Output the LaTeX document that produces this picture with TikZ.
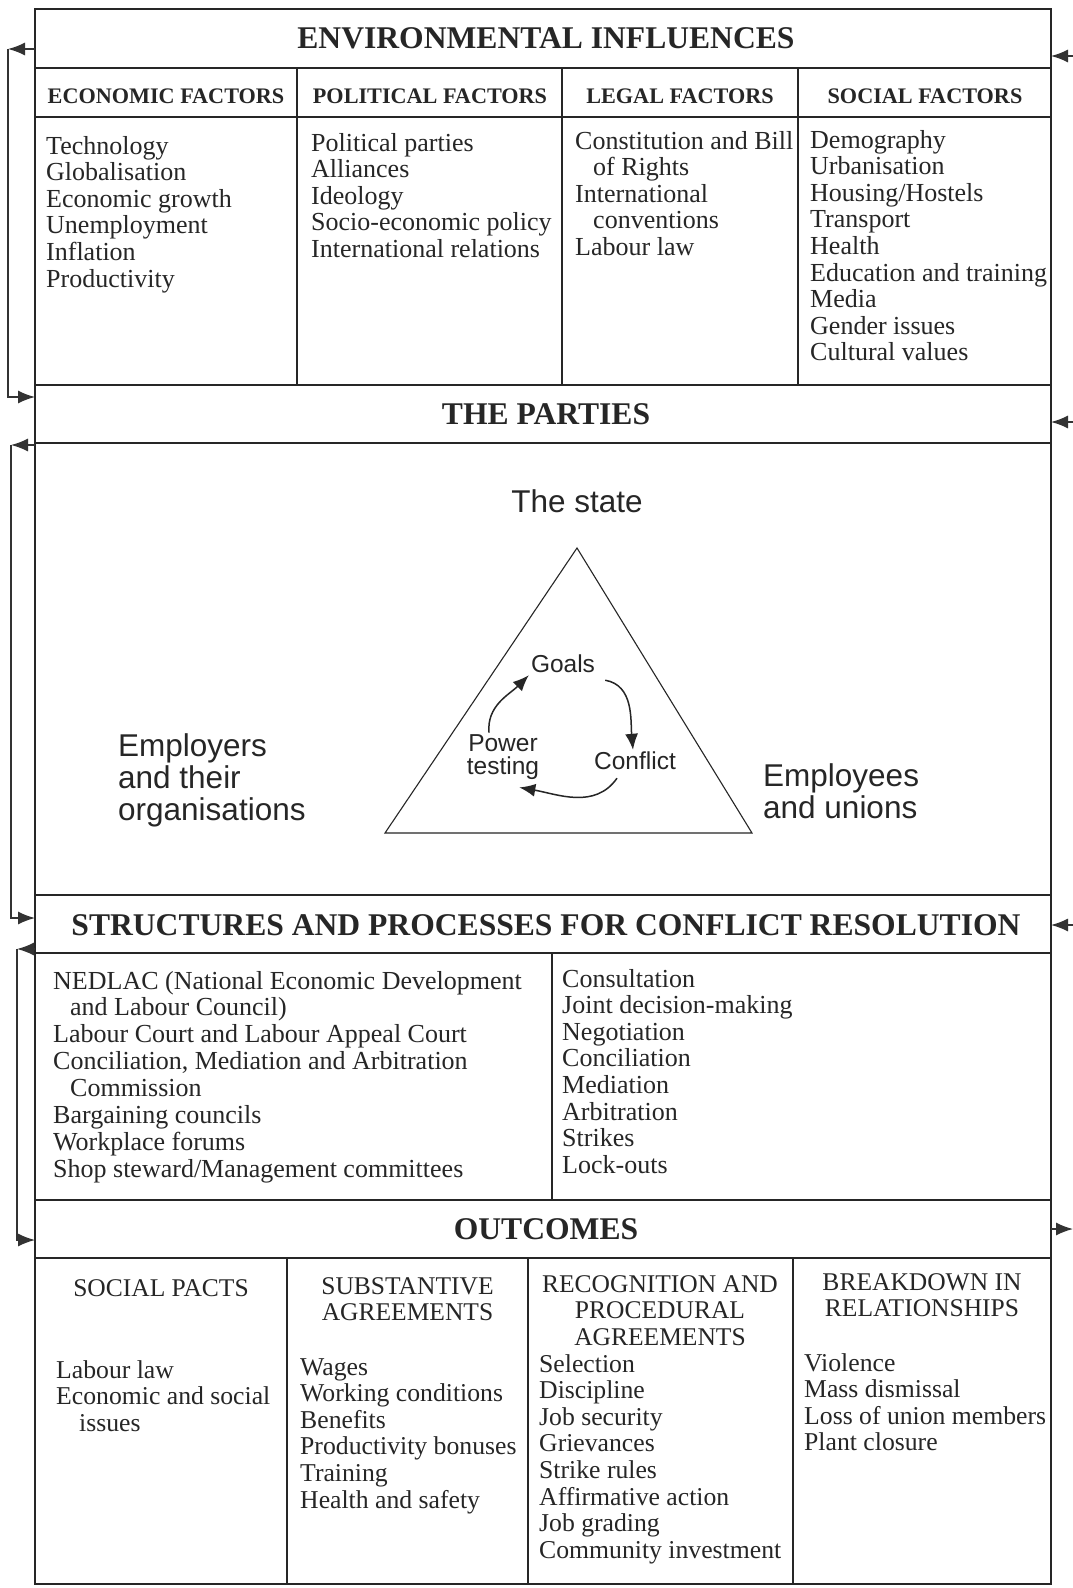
\documentclass[tikz,border=0pt]{standalone}
\usepackage{fontspec}
\setmainfont{Liberation Serif}
\setsansfont{Liberation Sans}
\usetikzlibrary{arrows.meta,positioning}

\begin{document}
\begin{tikzpicture}[x=1pt,y=1pt,
  rule/.style={draw=black!85, line width=1.4pt},
  link/.style={draw=black!80, line width=1.4pt},
  tip/.style={-{Latex[length=17pt,width=13pt]}},
  title/.style={font=\fontsize{31.6}{34}\selectfont\bfseries, text=black!85, anchor=base, inner sep=0pt},
  fhead/.style={font=\fontsize{22.2}{24}\selectfont\bfseries, text=black!85, anchor=base, inner sep=0pt},
  ohead/.style={font=\fontsize{25.5}{27}\selectfont, text=black!85, anchor=base, inner sep=0pt},
  item/.style={font=\fontsize{26}{27}\selectfont, text=black!85, anchor=base west, inner sep=0pt},
  oitem/.style={item, font=\fontsize{25.7}{27}\selectfont},
  big/.style={font=\sffamily\fontsize{31.5}{32}\selectfont, text=black!85, align=left, inner sep=0pt},
  small/.style={font=\sffamily\fontsize{24.5}{22.5}\selectfont, text=black!85, align=center, inner sep=2pt},
  cyc/.style={draw=black!85, line width=1.5pt, -{Latex[length=16pt,width=13pt]}}]
\useasboundingbox[fill=white] (0,0) rectangle (1073,-1588);

% frame and rules
\draw[rule] (35,-9) rectangle (1051,-1584);
\foreach \y in {68,117,385,443,895,953,1200,1258}
  \draw[rule] (35,-\y) -- (1051,-\y);
\foreach \x in {297,562,798}
  \draw[rule] (\x,-68) -- (\x,-385);
\draw[rule] (552,-953) -- (552,-1200);
\foreach \x in {287,528,793}
  \draw[rule] (\x,-1258) -- (\x,-1584);

% section titles
\node[title] (env) at (546,-48) {ENVIRONMENTAL INFLUENCES};
\node[title] (parties) at (546,-424) {THE PARTIES};
\node[title] (struct) at (546,-935) {STRUCTURES AND PROCESSES FOR CONFLICT RESOLUTION};
\node[title] (outc) at (546,-1239) {OUTCOMES};

% environmental influences
\foreach \x/\n/\l in {166/eco/ECONOMIC,430/pol/POLITICAL,680/leg/LEGAL,925/soc/SOCIAL}
  \node[fhead] (\n head) at (\x,-103) {\l{} FACTORS};
\foreach \t [count=\i from 0] in {Technology,Globalisation,Economic growth,Unemployment,Inflation,Productivity}
  \node[item] (eco\i) at (46,-154-26.6*\i) {\t};
\foreach \t [count=\i from 0] in {Political parties,Alliances,Ideology,Socio-economic policy,International relations}
  \node[item] (pol\i) at (311,-151-26.6*\i) {\t};
\foreach \t [count=\i from 0] in {Constitution and Bill,{\hspace*{18pt}of Rights},International,{\hspace*{18pt}conventions},Labour law}
  \node[item] (leg\i) at (575,-149-26.6*\i) {\t};
\foreach \t [count=\i from 0] in {Demography,Urbanisation,Housing/Hostels,Transport,Health,Education and training,Media,Gender issues,Cultural values}
  \node[item] (soc\i) at (810,-148-26.6*\i) {\t};

% the parties
\node[big, anchor=base] (state) at (577,-512) {The state};
\draw[line width=1.1pt, black!85] (577,-548) -- (385,-833) -- (752,-833) -- cycle;
\node[big, anchor=west] (employers) at (118,-780) {Employers\\and their\\organisations};
\node[big, anchor=west] (employees) at (763,-791) {Employees\\and unions};
\node[small] (goals) at (563,-664) {Goals};
\node[small] (conflict) at (635,-761) {Conflict};
\node[small] (power) at (503,-757) {Power\\testing};
\draw[cyc] ([xshift=8pt,yshift=-5pt]goals.south east) to[out=-10,in=95] ([xshift=-2pt]conflict.north);
\draw[cyc] ([xshift=-18pt,yshift=-6pt]conflict.south) to[out=-125,in=-10] ([xshift=-22pt,yshift=-6pt]power.south east);
\draw[cyc] ([xshift=-14pt]power.north) to[out=95,in=-135] (goals.south west);

% structures and processes
\foreach \t [count=\i from 0] in {NEDLAC (National Economic Development,{\hspace*{17pt}and Labour Council)},Labour Court and Labour Appeal Court,{Conciliation, Mediation and Arbitration},{\hspace*{17pt}Commission},Bargaining councils,Workplace forums,Shop steward/Management committees}
  \node[item] (body\i) at (53,-989-26.9*\i) {\t};
\foreach \t [count=\i from 0] in {Consultation,Joint decision-making,Negotiation,Conciliation,Mediation,Arbitration,Strikes,Lock-outs}
  \node[item] (proc\i) at (562,-987-26.6*\i) {\t};

% outcomes
\node[ohead] (pacts) at (161,-1296) {SOCIAL PACTS};
\foreach \t [count=\i from 0] in {SUBSTANTIVE,AGREEMENTS}
  \node[ohead] (subst\i) at (407.5,-1294-26.9*\i) {\t};
\foreach \t [count=\i from 0] in {RECOGNITION AND,PROCEDURAL,AGREEMENTS}
  \node[ohead] (recog\i) at (660,-1292-26.9*\i) {\t};
\foreach \t [count=\i from 0] in {BREAKDOWN IN,RELATIONSHIPS}
  \node[ohead] (brk\i) at (922,-1290-26.9*\i) {\t};
\foreach \t [count=\i from 0] in {Labour law,Economic and social,{\hspace*{23pt}issues}}
  \node[oitem] (pact\i) at (56,-1378-26.6*\i) {\t};
\foreach \t [count=\i from 0] in {Wages,Working conditions,Benefits,Productivity bonuses,Training,Health and safety}
  \node[oitem] (agr\i) at (300,-1375-26.6*\i) {\t};
\foreach \t [count=\i from 0] in {Selection,Discipline,Job security,Grievances,Strike rules,Affirmative action,Job grading,Community investment}
  \node[oitem] (proc\i) at (539,-1372-26.6*\i) {\t};
\foreach \t [count=\i from 0] in {Violence,Mass dismissal,Loss of union members,Plant closure}
  \node[oitem] (brkd\i) at (804,-1371-26.6*\i) {\t};

% feedback loops on the left
\foreach \n/\x/\a/\b in {1/8/49/397,2/11/445/918,3/17/949/1240} {
  \coordinate (out\n) at (35,-\a);
  \coordinate (turn\n) at (\x,-\a);
  \coordinate (in\n) at (35,-\b);
  \draw[link,tip] (out\n) -- (turn\n);
  \draw[link,tip] (turn\n) |- (in\n);
}

% inputs on the right
\foreach \n/\y in {1/56,2/422,3/925} {
  \coordinate (src\n) at (1073,-\y);
  \coordinate (dst\n) at (1051,-\y);
  \draw[link,tip] (src\n) -- (dst\n);
}
\coordinate (res) at (1051,-1229);
\coordinate (resout) at (1073,-1229);
\draw[link,tip] (res) -- (resout);
\end{tikzpicture}
\end{document}
